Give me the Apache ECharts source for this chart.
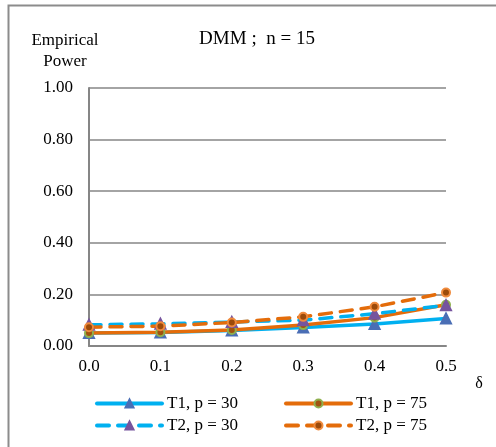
<!DOCTYPE html>
<html>
<head>
<meta charset="utf-8">
<script src="https://cdn.jsdelivr.net/npm/echarts@6/dist/echarts.min.js"></script>
<style>
  html, body { margin: 0; padding: 0; background: #fff; }
  #chart { width: 496px; height: 447px; }
</style>
</head>
<body>
<div id="chart"></div>
<script>
// Shift parameter delta on the x axis
const deltas = [0.0, 0.1, 0.2, 0.3, 0.4, 0.5];
// Empirical power of each test / dimension combination
const t1p30 = [0.050, 0.052, 0.060, 0.072, 0.085, 0.107];
const t1p75 = [0.050, 0.053, 0.062, 0.081, 0.110, 0.160];
const t2p30 = [0.082, 0.086, 0.093, 0.100, 0.125, 0.158];
const t2p75 = [0.073, 0.077, 0.091, 0.113, 0.152, 0.207];
const seriesNames = ['T1, p = 30', 'T1, p = 75', 'T2, p = 30', 'T2, p = 75'];

const SERIF = '"Liberation Serif", "DejaVu Serif", serif';
const BLUE = '#00B0F0';
const ORANGE = '#E46C0A';
const GRAY = '#868686';

const pairs = vals => deltas.map((d, i) => [d, vals[i]]);

function lineSeries(name, vals, color, dashed, symbol, fill, border) {
  return {
    name: name,
    type: 'line',
    data: pairs(vals),
    symbol: symbol,
    symbolSize: symbol === 'triangle' ? 10 : 8,
    showAllSymbol: true,
    lineStyle: { color: color, width: 3.5, type: dashed ? [12, 9] : 'solid', cap: 'round' },
    itemStyle: { color: fill, borderColor: border, borderWidth: 2 },
    emphasis: { disabled: true },
    z: 3
  };
}

const legendBase = {
  orient: 'vertical', top: 395, padding: 0,
  itemWidth: 65, itemHeight: 10, itemGap: 5,
  lineStyle: { width: 4 },
  textStyle: { color: '#000', fontFamily: SERIF, fontSize: 17 }
};

const chart = echarts.init(document.getElementById('chart'), null, { renderer: 'canvas' });
chart.setOption({
  animation: false,
  backgroundColor: '#fff',
  grid: { left: 89, right: 50, top: 88, bottom: 101 },
  xAxis: {
    type: 'value', min: 0, max: 0.5, interval: 0.1,
    axisLine: { show: true, lineStyle: { color: GRAY, width: 2 } },
    axisTick: { show: false },
    splitLine: { show: false },
    axisLabel: {
      margin: 12, color: '#000', fontFamily: SERIF, fontSize: 17,
      formatter: v => v.toFixed(1)
    }
  },
  yAxis: {
    type: 'value', min: 0, max: 1, interval: 0.2,
    axisLine: { show: true, lineStyle: { color: GRAY, width: 2 } },
    axisTick: { show: false },
    splitLine: { show: true, lineStyle: { color: GRAY, width: 1.5 } },
    axisLabel: {
      margin: 16, color: '#000', fontFamily: SERIF, fontSize: 17,
      formatter: v => v.toFixed(2)
    }
  },
  legend: [
    Object.assign({}, legendBase, { left: 95, data: [seriesNames[0], seriesNames[2]] }),
    Object.assign({}, legendBase, { left: 284, data: [seriesNames[1], seriesNames[3]] })
  ],
  graphic: [
    {
      type: 'rect', silent: true, z: -1,
      shape: { x: 8.5, y: 5.5, width: 600, height: 600 },
      style: { fill: 'none', stroke: '#8c8c8c', lineWidth: 2 }
    },
    {
      type: 'text', x: 257, y: 39,
      style: { text: 'DMM ;  n = 15', fill: '#000', font: '19px ' + SERIF,
               align: 'center', verticalAlign: 'middle' }
    },
    {
      type: 'text', x: 65, y: 30,
      style: { text: 'Empirical\nPower', fill: '#000', font: '17px ' + SERIF,
               align: 'center', lineHeight: 21 }
    },
    {
      type: 'text', x: 479, y: 384,
      style: { text: 'δ', fill: '#000', font: '16px ' + SERIF,
               align: 'center', verticalAlign: 'middle' }
    }
  ],
  series: [
    lineSeries(seriesNames[0], t1p30, BLUE, false, 'triangle', '#4A6EB5', '#4A6EB5'),
    lineSeries(seriesNames[1], t1p75, ORANGE, false, 'circle', '#A0520F', '#8FB04E'),
    lineSeries(seriesNames[2], t2p30, BLUE, true, 'triangle', '#76549E', '#76549E'),
    lineSeries(seriesNames[3], t2p75, ORANGE, true, 'circle', '#9C4A0A', '#F08A3C')
  ]
});
</script>
</body>
</html>
